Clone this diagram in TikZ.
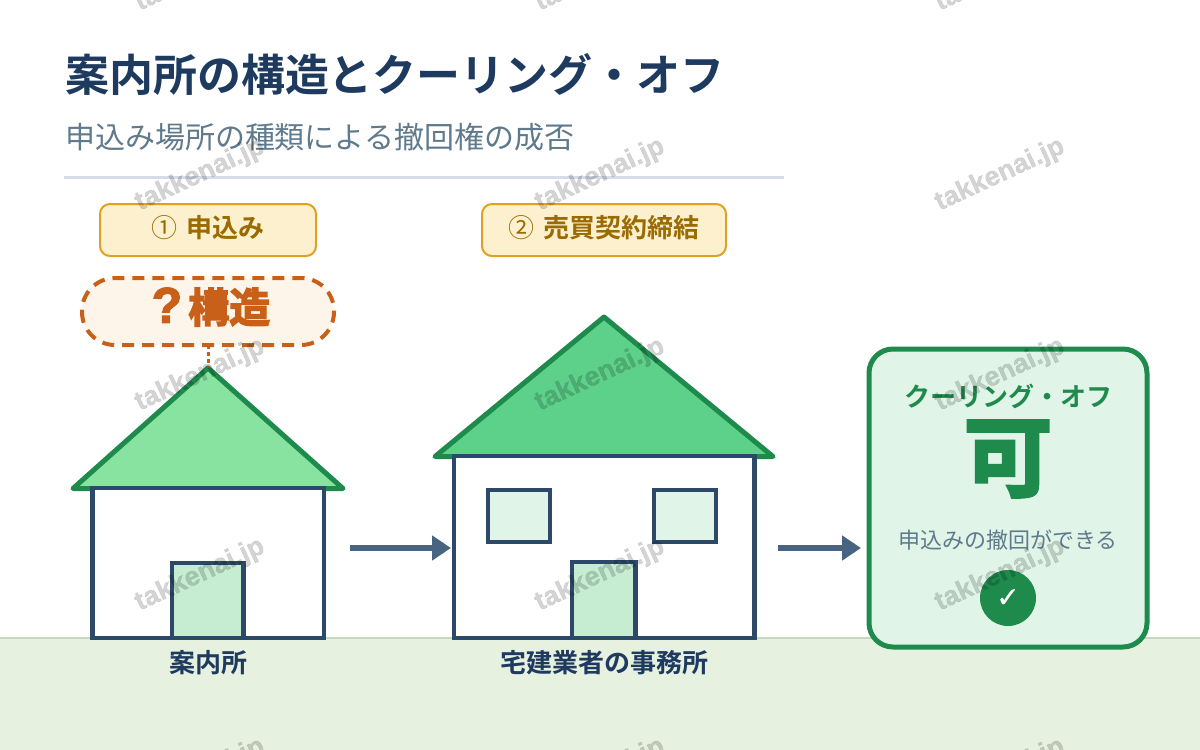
\documentclass[tikz,border=0pt]{standalone}
\usepackage{fontspec}
\usetikzlibrary{arrows.meta}
\newfontfamily\jp{Noto Sans CJK JP}
\newfontfamily\jpb{Noto Sans CJK JP Bold}
\newfontfamily\jpheavy[FakeBold=3.5]{Noto Sans CJK JP Bold}
\newfontfamily\latinheavy[FakeBold=2.5]{Liberation Sans Bold}
\newfontfamily\wmfont[FakeBold=0.4]{Liberation Sans Bold}
\newfontfamily\sym[FakeBold=0.4]{DejaVu Sans}
\definecolor{navy}{HTML}{1E3A5F}
\definecolor{wall}{HTML}{2C4A68}
\definecolor{leaf}{HTML}{1E8A4C}
\definecolor{slate}{HTML}{5F7A8C}
\definecolor{arrowc}{HTML}{476482}
\definecolor{amber}{HTML}{E0A020}
\definecolor{ambertxt}{HTML}{9A6B00}
\definecolor{ambersoft}{HTML}{FDF0CF}
\definecolor{rust}{HTML}{C8601A}
\definecolor{rustsoft}{HTML}{FEF5EA}
\definecolor{groundc}{HTML}{E6F1DF}
\definecolor{groundline}{HTML}{C5D9BD}
\definecolor{rulec}{HTML}{D5DEE8}
\definecolor{roofa}{HTML}{88E3A0}
\definecolor{roofb}{HTML}{5DD08A}
\definecolor{doorc}{HTML}{C6EDD2}
\definecolor{panec}{HTML}{E0F4E8}
\definecolor{cardc}{HTML}{E0F5E8}
\tikzset{
  x=1pt,y=-1pt,
  every node/.style={inner sep=0pt,outer sep=0pt},
  wallbox/.style={draw=wall,line width=4.5pt,fill=white},
  doorbox/.style={draw=wall,line width=4.5pt,fill=#1},
  roofshape/.style={draw=leaf,line width=5pt,line join=round,fill=#1},
  badge/.style={draw=amber,line width=2pt,fill=ambersoft,rounded corners=10pt},
  badgetext/.style={font=\jpb\fontsize{26}{30}\selectfont,text=ambertxt,anchor=center},
  placelabel/.style={font=\jpb\fontsize{26}{30}\selectfont,text=navy,anchor=center},
  flow/.style={draw=arrowc,line width=6pt,-{Triangle[length=19pt,width=24pt]}},
  stamp/.style={font=\wmfont\fontsize{27}{32}\selectfont,text=black,text opacity=0.17,rotate=25,anchor=center},
}
\begin{document}
\begin{tikzpicture}
\useasboundingbox (0,0) rectangle (1200,750);
\fill[white] (0,0) rectangle (1200,750);

% ground
\fill[groundc] (0,638) rectangle (1200,750);
\draw[line width=2pt,groundline] (0,638) -- (1200,638);

% heading
\node[font=\jpb\fontsize{44}{50}\selectfont,text=navy,anchor=west] (title) at (65,75) {案内所の構造とクーリング・オフ};
\node[font=\jp\fontsize{30}{34}\selectfont,text=slate,anchor=west] (subtitle) at (65,137) {申込み場所の種類による撤回権の成否};
\draw[line width=3pt,rulec] (64,177.5) -- (784,177.5);

% step badges
\draw[badge] (100,204) rectangle (316,256);
\node[badgetext] (stepone) at (208,228) {{\jp ①}\hspace{9pt}申込み};
\draw[badge] (482,204) rectangle (726,256);
\node[badgetext] (steptwo) at (603.5,228) {{\jp ②}\hspace{9pt}売買契約締結};

% left house
\coordinate (apexa) at (208,368);
\draw[roofshape=roofa] (apexa) -- (343,488.5) -- (73,488.5) -- cycle;
\draw[wallbox] (92.5,488) rectangle (324,638);
\draw[doorbox=doorc] (172,563) rectangle (243.5,638);
\node[placelabel] (placea) at (208,663) {案内所};

% right house
\draw[roofshape=roofb] (604,317) -- (773,456.5) -- (435,456.5) -- cycle;
\draw[wallbox] (454,456) rectangle (754.5,638);
\draw[doorbox=panec] (488,490) rectangle (550,542);
\draw[doorbox=panec] (654,490) rectangle (716,542);
\draw[doorbox=doorc] (572,562) rectangle (635.5,638);
\node[placelabel] (placeb) at (604,663) {宅建業者の事務所};

% dashed callout over the left house
\draw[draw=rust,line width=4pt,dash pattern=on 12pt off 8pt,fill=rustsoft,rounded corners=33pt] (82,278) rectangle (334,345);
\coordinate (bubblefoot) at (208,345);
\draw[draw=rust,line width=3pt,dash pattern=on 4pt off 3pt] (bubblefoot) -- (apexa);
\node[font=\jpheavy\fontsize{41}{44}\selectfont,text=rust,anchor=center] (bubble) at (211,307) {{\latinheavy\fontsize{50}{50}\selectfont ?}\hspace{6pt}構造};

% flow arrows
\coordinate (flowa) at (350,548);
\coordinate (flowb) at (451,548);
\coordinate (flowc) at (778,548);
\coordinate (flowd) at (861,548);
\draw[flow] (flowa) -- (flowb);
\draw[flow] (flowc) -- (flowd);

% result card
\draw[draw=leaf,line width=5pt,fill=cardc,rounded corners=24pt] (869,349) rectangle (1147,647);
\node[font=\jpb\fontsize{26}{30}\selectfont,text=leaf,anchor=center] (cardhead) at (1008,396) {クーリング・オフ};
\node[font=\jpheavy\fontsize{88}{92}\selectfont,text=leaf,anchor=center] (verdict) at (1008,459) {可};
\node[font=\jp\fontsize{22}{26}\selectfont,text=slate,anchor=center] (cardnote) at (1008,540) {申込みの撤回ができる};
\node[circle,fill=leaf,minimum size=56pt,font=\sym\fontsize{28}{30}\selectfont,text=white] (okmark) at (1008,598) {✓};

% repeating site mark
\foreach \yy in {-25,175,375,575,775}{
  \foreach \xx in {200,600,1000}{
    \node[stamp] at (\xx,\yy) {takkenai.jp};
  }
}
\end{tikzpicture}
\end{document}
